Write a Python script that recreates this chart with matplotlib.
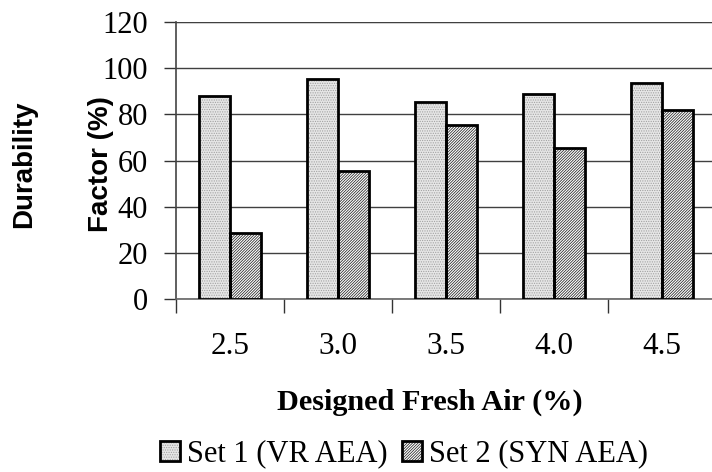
import numpy as np
import matplotlib.pyplot as plt
import matplotlib as mpl

# values
air = ['2.5', '3.0', '3.5', '4.0', '4.5']
set1 = [88, 95.5, 85.5, 89, 93.5]
set2 = [28.5, 55.5, 75.5, 65.5, 82]
labels = ['Set 1 (VR AEA)', 'Set 2 (SYN AEA)']

mpl.rcParams['hatch.linewidth'] = 0.55
serif = 'Liberation Serif'
sans = 'Liberation Sans'

fig = plt.figure(figsize=(7.12, 4.72), dpi=100)
ax = fig.add_axes([176/712, 1 - 299/472, 540/712, 277/472])

x = np.arange(len(air))
w = 0.29
# fill layers (hatch coloured by edgecolor), then black outlines on top
f1 = ax.bar(x - w/2, set1, w, facecolor='#e6e6e6', edgecolor='#a0a0a0',
            linewidth=0, hatch='.' * 7, zorder=3)
f2 = ax.bar(x + w/2, set2, w, facecolor='white', edgecolor='#222222',
            linewidth=0, hatch='/' * 12, zorder=3)
o1 = ax.bar(x - w/2, set1, w, fill=False, edgecolor='black', linewidth=2.0, zorder=4)
o2 = ax.bar(x + w/2, set2, w, fill=False, edgecolor='black', linewidth=2.0, zorder=4)

ax.set_xlim(-0.5, 4.5)
ax.set_ylim(0, 120)
ax.set_yticks(range(0, 121, 20))
ax.yaxis.grid(True, color='#404040', linewidth=1.0, zorder=0)
ax.axhline(120, color='#888888', linewidth=1.6, zorder=1)

# boundary ticks below the axis, labels at centres
ax.set_xticks(np.arange(-0.5, 5.0, 1.0))
ax.set_xticklabels([])
ax.set_xticks(x, minor=True)
ax.set_xticklabels(air, minor=True, fontsize=22.5, family=serif)
ax.tick_params(axis='x', which='major', length=10, width=1, color='#333333', direction='out')
ax.tick_params(axis='x', which='minor', length=0, pad=24)
ax.tick_params(axis='y', length=9, width=1, color='#333333', pad=11, labelsize=22)
for t in ax.get_yticklabels():
    t.set_family(serif)

for s in ['top', 'right']:
    ax.spines[s].set_visible(False)
ax.spines['left'].set_color('#444444')
ax.spines['bottom'].set_color('#666666')
ax.spines['left'].set_linewidth(1.2)
ax.spines['bottom'].set_linewidth(1.2)

fig.text(24/712, 1 - 164/472, 'Durability', rotation=90, ha='center', va='center',
         fontsize=20, fontweight='bold', family=sans)
fig.text(101/712, 1 - 164/472, 'Factor (%)', rotation=90, ha='center', va='center',
         fontsize=20, fontweight='bold', family=sans)
fig.text(430/712, 1 - 410/472, 'Designed Fresh Air (%)', ha='center', va='baseline',
         fontsize=21.8, fontweight='bold', family=serif)

fig.legend(handles=[(f1, o1), (f2, o2)], labels=labels, loc='center',
           bbox_to_anchor=(404/712, 1 - 454/472), borderpad=0, borderaxespad=0,
           ncol=2, frameon=False, prop={'family': serif, 'size': 22},
           handlelength=0.65, handleheight=0.65, handletextpad=0.22, columnspacing=0.5)

fig.savefig('out.png', dpi=100)
